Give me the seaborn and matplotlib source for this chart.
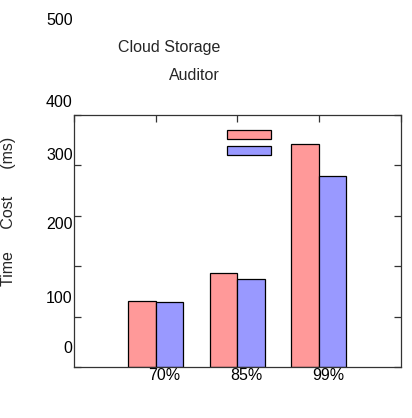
import pandas as pd
import matplotlib
matplotlib.use('Agg')
import matplotlib.pyplot as plt
import matplotlib.transforms as mtransforms
import seaborn as sns

# data
percentiles = ['70%', '85%', '99%']
series_names = ['Cloud Storage', 'Auditor']
cloud_storage = [130, 187, 442]
auditor = [128, 174, 378]
y_ticks = [0, 100, 200, 300, 400, 500]
colors = ['#ff9999', '#9999ff']

df = pd.DataFrame({
    'percentile': percentiles * 2,
    'series': [series_names[0]] * 3 + [series_names[1]] * 3,
    'time': cloud_storage + auditor,
})

sns.set_style('white')
plt.rcParams['font.family'] = ['Liberation Sans', 'DejaVu Sans']
plt.rcParams['font.size'] = 11.5

fig = plt.figure(figsize=(4.12, 4.18), dpi=100)
ax = fig.add_axes([74 / 412, 51 / 418, 326.5 / 412, 252 / 418])

sns.barplot(data=df, x='percentile', y='time', hue='series', order=percentiles,
            hue_order=series_names, palette=colors, saturation=1, width=0.675,
            edgecolor='black', linewidth=0.9, ax=ax)

for s in ax.spines.values():
    s.set_visible(True)
    s.set_color('#333333')
    s.set_linewidth(0.9)

ax.set_xlim(-1, 3)
ax.set_ylim(0, 500)
ax.set_xticks([-1, 0, 1, 2, 3])
ax.set_xticklabels([''] + percentiles + [''])
ax.set_yticks(y_ticks)
ax.set_yticklabels([str(v) for v in y_ticks])
ax.set_xlabel('')
ax.set_ylabel('')

ax.tick_params(axis='x', direction='in', top=True, bottom=False, length=5,
               width=0.9, pad=1, labelsize=11.5, colors='#333333', labelcolor='black')
ax.tick_params(axis='y', direction='in', left=True, right=True, length=5,
               width=0.9, pad=1, labelsize=11.5, colors='#333333', labelcolor='black')

# the labels sit off their ticks in the reference
x_shift = 9
for lab in ax.get_xticklabels():
    lab.set_transform(lab.get_transform() +
                      mtransforms.ScaledTranslation(x_shift / 100, 0, fig.dpi_scale_trans))
y_shift = [20, 20, 43, 62, 64, 96]
for lab, dy in zip(ax.get_yticklabels(), y_shift):
    lab.set_transform(lab.get_transform() +
                      mtransforms.ScaledTranslation(0, dy / 100, fig.dpi_scale_trans))

# legend swatches without text, names written above the plot
handles, _ = ax.get_legend_handles_labels()
ax.legend(handles, ['', ''], loc='upper left', bbox_to_anchor=(227 / 412, 1 - 129 / 418),
          bbox_transform=fig.transFigure, frameon=False, borderpad=0, borderaxespad=0,
          fontsize=11, handlelength=2.88, handleheight=0.52, handletextpad=0,
          labelspacing=0.1)

fig.text(220 / 412, 1 - 40 / 418, 'Cloud Storage\nAuditor', ha='right', va='top',
         multialignment='right', linespacing=2.1, fontsize=11.5)
fig.text(9 / 412, 1 - 211 / 418, 'Time     Cost      (ms)', rotation=90,
         ha='center', va='center', fontsize=11.5)

plt.savefig('out.png', dpi=100)
